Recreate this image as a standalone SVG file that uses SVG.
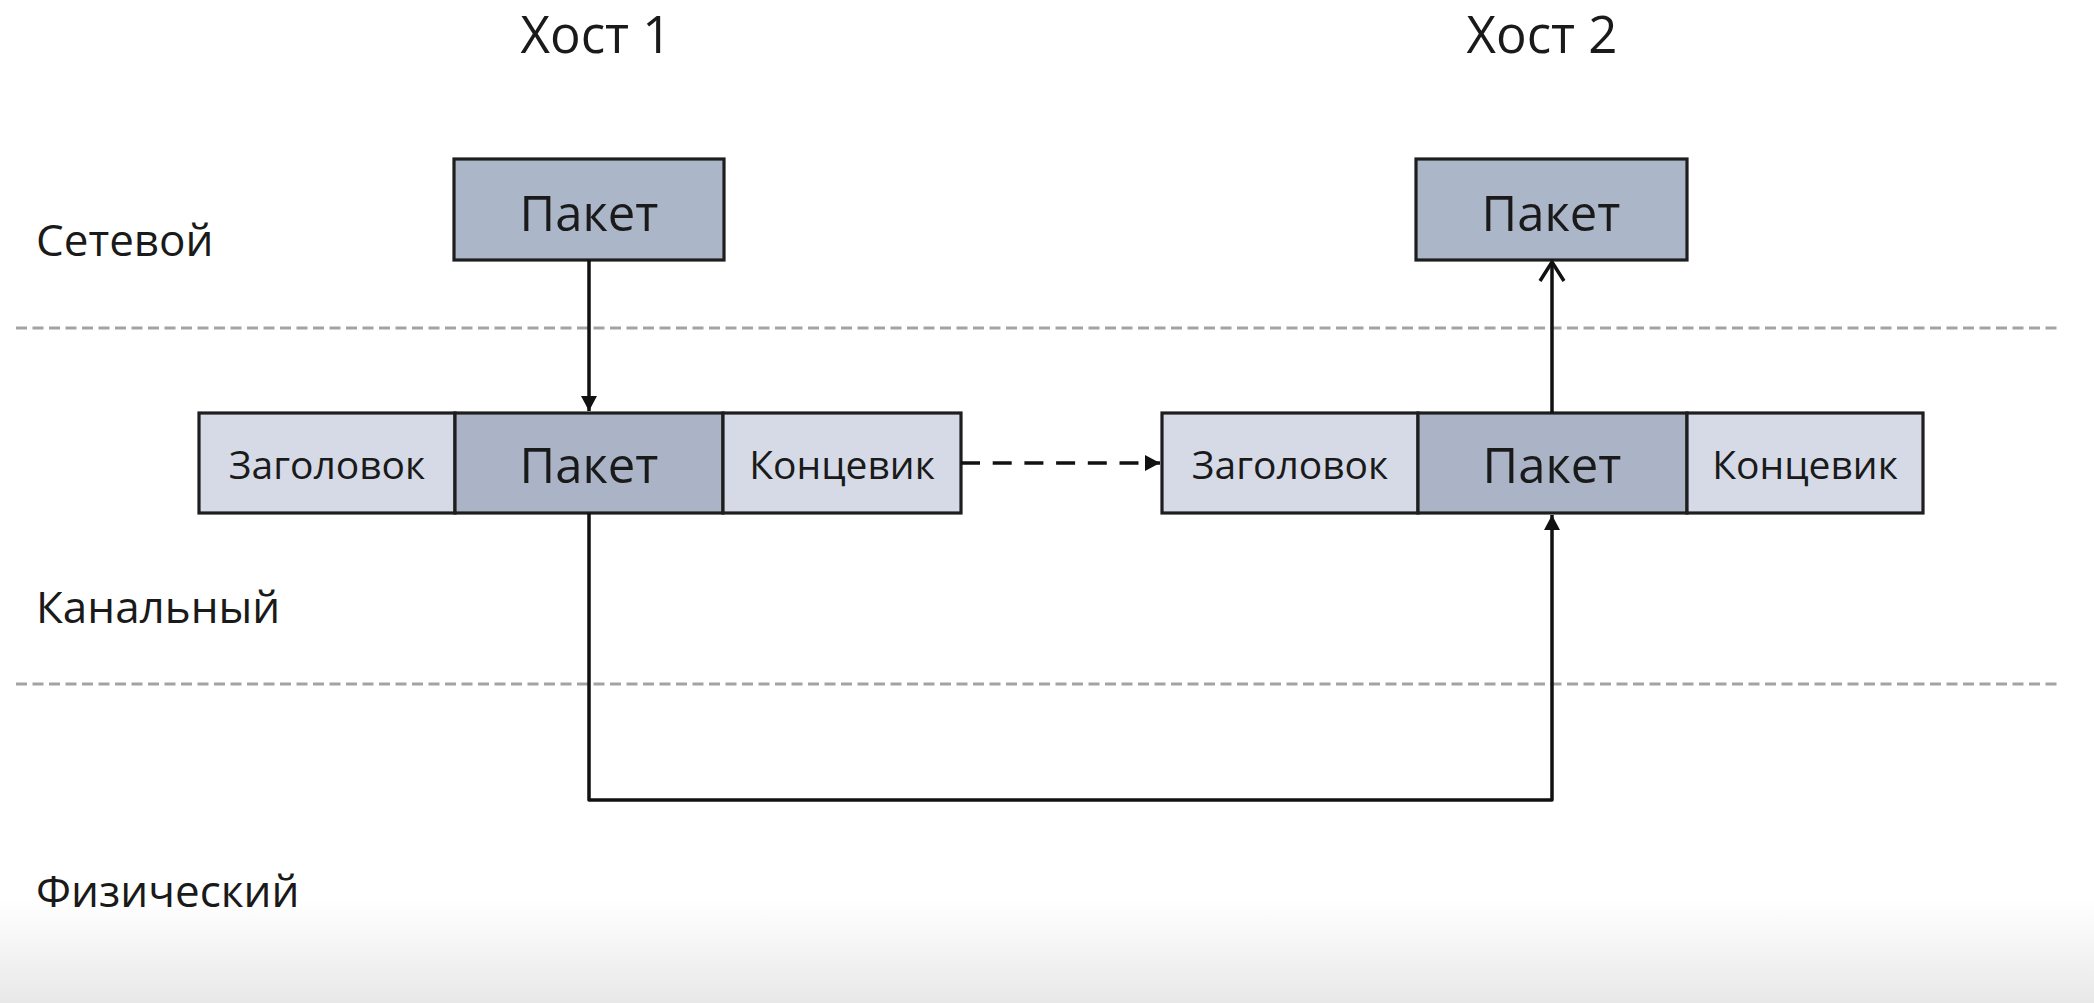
<svg xmlns="http://www.w3.org/2000/svg" width="2094" height="1003" viewBox="0 0 2094 1003">
  <defs>
    <linearGradient id="bottomFade" x1="0" y1="0" x2="0" y2="1">
      <stop offset="0" stop-color="#ffffff"/>
      <stop offset="1" stop-color="#e8e8e8"/>
    </linearGradient>
    <marker id="tri" markerUnits="userSpaceOnUse" markerWidth="16" markerHeight="16" refX="15" refY="8" orient="auto" overflow="visible">
      <path d="M0,0 L15,8 L0,16 z" fill="#111"/>
    </marker>
    <marker id="chev" markerUnits="userSpaceOnUse" markerWidth="24" markerHeight="28" refX="20" refY="12" orient="auto" overflow="visible">
      <path d="M1,0 L20,12 L1,24" fill="none" stroke="#111" stroke-width="3.5" stroke-linejoin="miter"/>
    </marker>
    <style>
      .lbl { font-family: "Open Sans", "Noto Sans", "DejaVu Sans", sans-serif; fill: #1a1a1a; }
      .host { font-size: 51px; text-anchor: middle; }
      .layer { font-size: 44px; }
      .pkt { font-size: 49px; text-anchor: middle; }
      .small { font-size: 39px; text-anchor: middle; }
      .box { stroke: #1e1e1e; stroke-width: 3.2; }
      .dark { fill: #abb6c8; }
      .mid { fill: #aab4c6; }
      .light { fill: #d6dae7; }
      .sep { stroke: #a3a3a3; stroke-width: 3; stroke-dasharray: 11 5.5; fill: none; }
      .wire { stroke: #111; stroke-width: 3.5; fill: none; stroke-linejoin: round; }
    </style>
  </defs>

  <rect x="0" y="0" width="2094" height="1003" fill="#ffffff"/>
  <rect x="0" y="900" width="2094" height="103" fill="url(#bottomFade)"/>

  <g id="separators">
    <line class="sep" x1="16" y1="328" x2="2059" y2="328"/>
    <line class="sep" x1="16" y1="684" x2="2059" y2="684"/>
  </g>

  <g id="titles">
    <text class="lbl host" x="596" y="53">Хост 1</text>
    <text class="lbl host" x="1542" y="53">Хост 2</text>
  </g>

  <g id="layers">
    <text class="lbl layer" x="36" y="256">Сетевой</text>
    <text class="lbl layer" x="36" y="623">Канальный</text>
    <text class="lbl layer" x="36" y="907">Физический</text>
  </g>

  <g id="packet-host1">
    <rect class="box dark" x="454" y="159" width="270" height="101"/>
    <text class="lbl pkt" x="589" y="231">Пакет</text>
  </g>

  <g id="packet-host2">
    <rect class="box dark" x="1416" y="159" width="271" height="101"/>
    <text class="lbl pkt" x="1551" y="231">Пакет</text>
  </g>

  <g id="frame-host1">
    <rect class="box light" x="199" y="413" width="256" height="100"/>
    <text class="lbl small" x="327" y="479">Заголовок</text>
    <rect class="box mid" x="455" y="413" width="268" height="100"/>
    <text class="lbl pkt" x="589" y="483">Пакет</text>
    <rect class="box light" x="723" y="413" width="238" height="100"/>
    <text class="lbl small" x="842" y="479">Концевик</text>
  </g>

  <g id="frame-host2">
    <rect class="box light" x="1162" y="413" width="256" height="100"/>
    <text class="lbl small" x="1290" y="479">Заголовок</text>
    <rect class="box mid" x="1418" y="413" width="269" height="100"/>
    <text class="lbl pkt" x="1552" y="483">Пакет</text>
    <rect class="box light" x="1687" y="413" width="236" height="100"/>
    <text class="lbl small" x="1805" y="479">Концевик</text>
  </g>

  <g id="connectors">
    <path class="wire" d="M589,260 L589,411" marker-end="url(#tri)"/>
    <path class="wire" d="M1552,413 L1552,262" marker-end="url(#chev)"/>
    <path class="wire" d="M589,513 L589,800 L1552,800 L1552,515" marker-end="url(#tri)"/>
    <path class="wire" d="M961,463 L1160,463" stroke-width="4" stroke-dasharray="19 12.7" marker-end="url(#tri)"/>
  </g>
</svg>
